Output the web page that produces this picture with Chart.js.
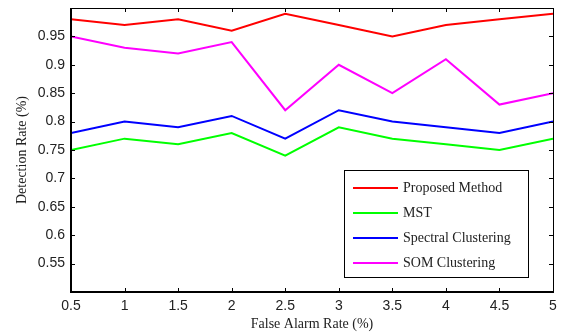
<!DOCTYPE html>
<html>
<head>
<meta charset="utf-8">
<script src="https://cdn.jsdelivr.net/npm/chart.js@4"></script>
<style>
  html, body { margin: 0; padding: 0; background: #fff; }
  #wrap { width: 563px; height: 335px; }
</style>
</head>
<body>
<div id="wrap"><canvas id="chart" width="563" height="335"></canvas></div>
<script>
const falseAlarm = [0.5, 1, 1.5, 2, 2.5, 3, 3.5, 4, 4.5, 5];
const proposed = [0.98, 0.97, 0.98, 0.96, 0.99, 0.97, 0.95, 0.97, 0.98, 0.99];
const mst = [0.75, 0.77, 0.76, 0.78, 0.74, 0.79, 0.77, 0.76, 0.75, 0.77];
const spectral = [0.78, 0.80, 0.79, 0.81, 0.77, 0.82, 0.80, 0.79, 0.78, 0.80];
const som = [0.95, 0.93, 0.92, 0.94, 0.82, 0.90, 0.85, 0.91, 0.83, 0.85];
const seriesNames = ['Proposed Method', 'MST', 'Spectral Clustering', 'SOM Clustering'];
const seriesColors = ['#ff0000', '#00ff00', '#0000ff', '#ff00ff'];

const toPoints = vals => vals.map((v, i) => ({ x: falseAlarm[i], y: v }));

// frame, inward ticks and the boxed legend, matlab style
const matlabFrame = {
  id: 'matlabFrame',
  afterDatasetsDraw(chart) {
    const { ctx, chartArea: a, scales } = chart;
    ctx.save();
    ctx.strokeStyle = '#000';
    ctx.lineWidth = 1;
    ctx.beginPath();
    scales.x.ticks.forEach(t => {
      const px = Math.round(scales.x.getPixelForValue(t.value)) + 0.5;
      ctx.moveTo(px, a.bottom); ctx.lineTo(px, a.bottom - 4);
      ctx.moveTo(px, a.top); ctx.lineTo(px, a.top + 4);
    });
    scales.y.ticks.forEach(t => {
      const py = Math.round(scales.y.getPixelForValue(t.value)) + 0.5;
      ctx.moveTo(a.left, py); ctx.lineTo(a.left + 4, py);
      ctx.moveTo(a.right, py); ctx.lineTo(a.right - 4, py);
    });
    ctx.stroke();
    ctx.strokeRect(Math.round(a.left) + 0.5, Math.round(a.top) + 0.5,
      Math.round(a.right - a.left), Math.round(a.bottom - a.top));
    // thicker left/bottom axes
    ctx.lineWidth = 2;
    ctx.beginPath();
    ctx.moveTo(a.left, a.top); ctx.lineTo(a.left, a.bottom); ctx.lineTo(a.right, a.bottom);
    ctx.stroke();

    // legend box
    const bx = 344, by = 170, bw = 184, bh = 107;
    ctx.fillStyle = '#fff';
    ctx.fillRect(bx, by, bw, bh);
    ctx.lineWidth = 1;
    ctx.strokeRect(bx + 0.5, by + 0.5, bw, bh);
    ctx.font = '14px "Liberation Serif", serif';
    ctx.textBaseline = 'middle';
    chart.data.datasets.forEach((ds, i) => {
      const y = by + 18 + i * 25;
      ctx.strokeStyle = ds.borderColor;
      ctx.lineWidth = 2;
      ctx.beginPath();
      ctx.moveTo(bx + 9, y); ctx.lineTo(bx + 54, y);
      ctx.stroke();
      ctx.fillStyle = '#222';
      ctx.fillText(ds.label, bx + 59, y);
    });
    ctx.restore();
  }
};

new Chart(document.getElementById('chart'), {
  type: 'line',
  data: {
    datasets: [proposed, mst, spectral, som].map((vals, i) => ({
      label: seriesNames[i],
      data: toPoints(vals),
      borderColor: seriesColors[i],
      backgroundColor: seriesColors[i],
      borderWidth: 2,
      pointRadius: 0,
      tension: 0,
      fill: false
    }))
  },
  options: {
    responsive: false,
    animation: false,
    layout: { padding: { top: 8, right: 10, left: 0, bottom: 0 } },
    plugins: {
      legend: { display: false },
      tooltip: { enabled: false }
    },
    scales: {
      x: {
        type: 'linear',
        min: 0.5,
        max: 5,
        border: { display: false },
        grid: { display: false, drawTicks: false },
        ticks: {
          stepSize: 0.5,
          padding: 6,
          color: '#222',
          font: { family: '"Liberation Sans", Arial, sans-serif', size: 14 },
          callback: v => String(v)
        },
        title: {
          display: true,
          text: 'False Alarm Rate (%)',
          color: '#222',
          padding: { top: 0, bottom: 2 },
          font: { family: '"Liberation Serif", serif', size: 14 }
        },
        afterFit: s => { s.height = 43; }
      },
      y: {
        min: 0.5,
        max: 1.0,
        border: { display: false },
        grid: { display: false, drawTicks: false },
        ticks: {
          stepSize: 0.05,
          padding: 6,
          color: '#222',
          font: { family: '"Liberation Sans", Arial, sans-serif', size: 14 },
          callback: v => {
            const r = Math.round(v * 100) / 100;
            return (r <= 0.5 || r >= 1) ? '' : String(r);
          }
        },
        title: {
          display: true,
          text: 'Detection Rate (%)',
          color: '#222',
          padding: { top: 14, bottom: 4 },
          font: { family: '"Liberation Serif", serif', size: 14 }
        },
        afterFit: s => { s.width = 71; s.paddingTop = 0; s.paddingBottom = 0; }
      }
    }
  },
  plugins: [matlabFrame]
});
</script>
</body>
</html>
